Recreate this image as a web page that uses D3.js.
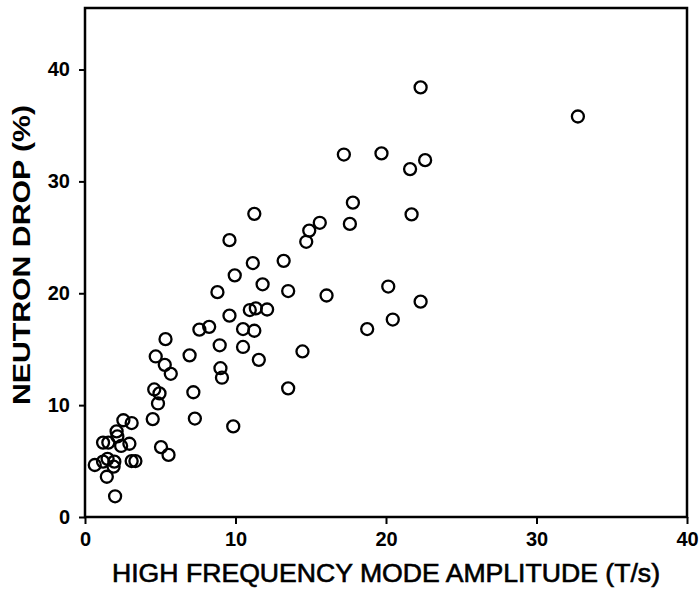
<!DOCTYPE html>
<html>
<head>
<meta charset="utf-8">
<script src="https://cdn.jsdelivr.net/npm/d3@7"></script>
<style>
  html, body { margin: 0; padding: 0; background: #fff; }
  svg { display: block; }
</style>
</head>
<body>
<svg id="chart" width="700" height="590"></svg>
<script>
// ---- Data ----
const xTicks = [0, 10, 20, 30, 40];
const yTicks = [0, 10, 20, 30, 40];
const xTitle = "HIGH FREQUENCY MODE AMPLITUDE (T/s)";
const yTitle = "NEUTRON DROP (%)";
const amplitude = [
  22.3, 32.75, 17.2, 19.7, 22.6, 21.6, 17.8, 11.25, 21.7, 15.6,
  17.6, 14.9, 14.7, 9.6, 13.2, 11.15, 9.95, 11.8, 20.15, 13.5,
  8.8, 16.05, 22.3, 9.6, 10.95, 11.35, 12.1, 20.45, 8.25, 7.6,
  10.5, 11.25, 18.75, 5.35, 8.95, 10.5, 14.45, 4.7, 6.95, 11.55,
  5.3, 9.0, 5.7, 9.1, 4.6, 7.2, 13.5, 4.95, 4.85, 4.5,
  7.3, 9.85, 2.55, 3.1, 2.1, 2.15, 1.2, 1.55, 2.95, 2.4,
  5.05, 5.55, 0.65, 1.5, 1.2, 1.95, 1.9, 3.1, 3.35, 1.45, 2.0
];
const neutronDrop = [
  38.4, 35.8, 32.4, 32.5, 31.9, 31.1, 28.1, 27.1, 27.05, 26.3,
  26.2, 25.6, 24.6, 24.75, 22.9, 22.7, 21.6, 20.8, 20.6, 20.2,
  20.1, 19.8, 19.25, 18.0, 18.5, 18.65, 18.55, 17.65, 17.0, 16.75,
  16.8, 16.65, 16.8, 15.9, 15.35, 15.2, 14.8, 14.35, 14.45, 14.05,
  13.6, 13.3, 12.8, 12.45, 11.4, 11.15, 11.5, 11.05, 10.15, 8.75,
  8.8, 8.1, 8.65, 8.4, 7.65, 7.2, 6.65, 6.65, 6.55, 6.35,
  6.25, 5.55, 4.65, 5.2, 4.95, 4.95, 4.5, 5.0, 5.0, 3.6, 1.85
];

// ---- Chart ----
(function () {
  const svg = d3.select("#chart");
  const mLeft = 85, mRight = 687, mTop = 8, mBottom = 517;
  const x = d3.scaleLinear().domain([0, 40]).range([mLeft, mRight]);
  const y = d3.scaleLinear().domain([0, 45.5]).range([mBottom, mTop]);
  const font = "'Liberation Sans', Arial, Helvetica, sans-serif";

  // frame
  svg.append("rect")
    .attr("x", mLeft).attr("y", mTop)
    .attr("width", mRight - mLeft).attr("height", mBottom - mTop)
    .attr("fill", "none").attr("stroke", "#000").attr("stroke-width", 2.5);

  // x axis
  const xAxis = svg.append("g")
    .attr("transform", `translate(0,${mBottom})`)
    .call(d3.axisBottom(x).tickValues(xTicks).tickSize(7).tickPadding(8).tickFormat(d3.format("d")));
  xAxis.select(".domain").remove();
  xAxis.selectAll("line").attr("stroke", "#000").attr("stroke-width", 2);
  xAxis.selectAll("text")
    .attr("font-family", font).attr("font-size", 20).attr("font-weight", "bold").attr("fill", "#000");

  // y axis
  const yAxis = svg.append("g")
    .attr("transform", `translate(${mLeft},0)`)
    .call(d3.axisLeft(y).tickValues(yTicks).tickSize(6).tickPadding(9).tickFormat(d3.format("d")));
  yAxis.select(".domain").remove();
  yAxis.selectAll("line").attr("stroke", "#000").attr("stroke-width", 2);
  yAxis.selectAll("text")
    .attr("font-family", font).attr("font-size", 20).attr("font-weight", "bold").attr("fill", "#000");

  // points
  const pts = amplitude.map((a, i) => ({ a, n: neutronDrop[i] }));
  svg.append("g").selectAll("circle")
    .data(pts).join("circle")
    .attr("cx", d => x(d.a))
    .attr("cy", d => y(d.n))
    .attr("r", 6)
    .attr("fill", "none")
    .attr("stroke", "#000")
    .attr("stroke-width", 2.3);

  // titles
  svg.append("text")
    .attr("x", 386).attr("y", 582)
    .attr("text-anchor", "middle")
    .attr("font-family", font).attr("font-size", 25)
    .attr("textLength", 548).attr("lengthAdjust", "spacingAndGlyphs")
    .attr("fill", "#000").attr("stroke", "#000").attr("stroke-width", 0.6)
    .text(xTitle);

  svg.append("text")
    .attr("transform", "translate(30,255) rotate(-90)")
    .attr("text-anchor", "middle")
    .attr("font-family", font).attr("font-size", 23).attr("font-weight", "bold")
    .attr("textLength", 300).attr("lengthAdjust", "spacingAndGlyphs")
    .attr("fill", "#000")
    .text(yTitle);
})();
</script>
</body>
</html>
